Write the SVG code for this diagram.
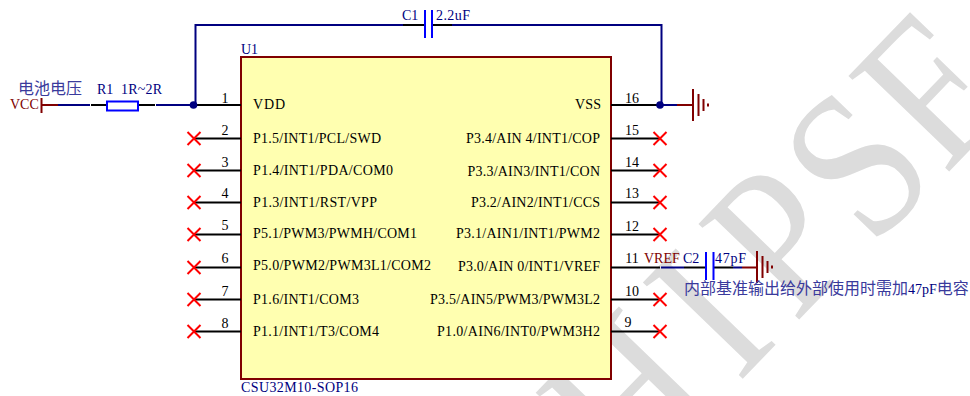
<svg xmlns="http://www.w3.org/2000/svg" width="970" height="396" viewBox="0 0 970 396">
<style>
.t{font-family:"Liberation Serif","Noto Sans CJK SC",serif;font-size:14px}
.z{font-family:"Noto Sans CJK SC","Liberation Serif",sans-serif;font-size:16px;fill:#3a3a9c}
.k{fill:#000}
.b{fill:#000080}
.m{fill:#800000}
.pin{stroke:#000;stroke-width:2;fill:none}
.w{stroke:#000080;stroke-width:2;fill:none}
.r{stroke:#800000;stroke-width:2;fill:none}
.x{stroke:#ff0000;stroke-width:2;fill:none}
.c{stroke:#0000ff;stroke-width:2;fill:none}
.wm{font-family:"Liberation Serif",serif;font-size:212px;fill:#dcdcdc}
.mid{text-anchor:middle}
</style>
<defs>
<path id="x" class="x" d="M-6.500-6.500L6.500 6.500M-6.500 6.500L6.500-6.500"/>
<path id="gnd" class="r" d="M0-16V16M5.500-11V11M10.500-6V6M15-1.500V1.500"/>
</defs>
<g id="watermark">
<text class="wm" transform="translate(707,415) rotate(-46) scale(.85,1)" x="-127">H</text>
<text class="wm" transform="translate(759,362) rotate(-46) scale(.85,1)" x="-35">I</text>
<text class="wm" transform="translate(810,308) rotate(-46) scale(.85,1)" x="-26">P</text>
<text class="wm" transform="translate(872,249) rotate(-46) scale(.85,1)">S</text>
<text class="wm" transform="translate(960,160) rotate(-46) scale(.85,1)" x="-26">F</text>
</g>
<g id="U1">
<rect x="241" y="57" width="370" height="322" fill="#ffffb0" stroke="#800000" stroke-width="2"/>
<text class="t b" x="241" y="54">U1</text>
<text class="t b" x="241" y="392" textLength="117">CSU32M10-SOP16</text>
<text class="t k" x="253" y="109" textLength="32">VDD</text>
<text class="t k" x="253" y="143" textLength="128">P1.5/INT1/PCL/SWD</text>
<text class="t k" x="253" y="175" textLength="140">P1.4/INT1/PDA/COM0</text>
<text class="t k" x="253" y="206.500" textLength="124">P1.3/INT1/RST/VPP</text>
<text class="t k" x="253" y="238" textLength="164">P5.1/PWM3/PWMH/COM1</text>
<text class="t k" x="253" y="270" textLength="178">P5.0/PWM2/PWM3L1/COM2</text>
<text class="t k" x="253" y="304" textLength="106">P1.6/INT1/COM3</text>
<text class="t k" x="253" y="336" textLength="126">P1.1/INT1/T3/COM4</text>
<text class="t k" x="575" y="109" textLength="26">VSS</text>
<text class="t k" x="466" y="143" textLength="134">P3.4/AIN 4/INT1/COP</text>
<text class="t k" x="467.500" y="175.500" textLength="132.500">P3.3/AIN3/INT1/CON</text>
<text class="t k" x="471" y="206.500" textLength="129">P3.2/AIN2/INT1/CCS</text>
<text class="t k" x="456" y="238" textLength="144">P3.1/AIN1/INT1/PWM2</text>
<text class="t k" x="458" y="270.500" textLength="142">P3.0/AIN 0/INT1/VREF</text>
<text class="t k" x="430" y="304" textLength="170">P3.5/AIN5/PWM3/PWM3L2</text>
<text class="t k" x="437" y="336" textLength="163">P1.0/AIN6/INT0/PWM3H2</text>
<g class="t k mid">
<text x="225" y="103">1</text><text x="225" y="134.500">2</text><text x="225" y="166.500">3</text><text x="225" y="198">4</text><text x="225" y="230">5</text><text x="225" y="263">6</text><text x="225" y="296">7</text><text x="225" y="328">8</text>
<text x="632" y="103">16</text><text x="632" y="134.500">15</text><text x="632" y="166.500">14</text><text x="632" y="198">13</text><text x="632" y="231">12</text><text x="632" y="263">11</text><text x="632" y="295.500">10</text><text x="628" y="327">9</text>
</g>
</g>
<g id="connectors">
<path class="pin" d="M194 105H241M194 138.500H241M194 170.500H241M194 202.500H241M194 234.500H241M194 267.500H241M194 299.500H241M194 331.500H241"/>
<path class="pin" d="M611 105H660M611 138.500H660M611 170.500H660M611 202.500H660M611 234.500H660M611 267.500H660M611 299.500H660M611 331.500H660"/>
<path class="w" d="M58 105H90M156 105H193M195.500 105V25H403M452 25H661.500V105M660 105H677M661 267.500H684M733 267.500H742"/>
<path class="pin" d="M91 105H107M139 105H155M684 267.500H706M714 267.500H733"/>
<path class="r" d="M42 105H58M677 105H693M742 267.500H757"/>
<circle cx="193.500" cy="105" r="3.800" fill="#000080"/>
<circle cx="660" cy="105" r="3.800" fill="#000080"/>
</g>
<g id="VCC"><path class="r" d="M41.500 98V113"/><text class="t m" x="10" y="109">VCC</text><text class="z" x="18" y="94">电池电压</text></g>
<g id="R1"><rect x="107" y="101.500" width="31" height="9" fill="none" stroke="#0000ff" stroke-width="2"/><text class="t b" x="97" y="94">R1</text><text class="t b" x="121" y="94" textLength="41">1R~2R</text></g>
<g id="C1"><path class="pin" d="M403 25H425M432 25H452"/><path class="c" d="M425 10V38M432 10V38"/><text class="t b" x="402" y="20">C1</text><text class="t b" x="436" y="20" textLength="34">2.2uF</text></g>
<g id="GND1"><use href="#gnd" x="693" y="105"/></g>
<g id="VREF"><text class="t m" x="644" y="263">VREF</text></g>
<g id="C2"><path class="c" d="M706 252V280M713.500 252V280"/><text class="t b" x="683" y="263">C2</text><text class="t b" x="715" y="263" textLength="31">47pF</text></g>
<g id="GND2"><use href="#gnd" x="757" y="267"/></g>
<g id="note"><text class="z" x="684" y="294">内部基准输出给外部使用时需加<tspan class="t b">47pF</tspan>电容</text></g>
<g id="nc">
<use href="#x" x="194" y="138.500"/><use href="#x" x="194" y="170.500"/><use href="#x" x="194" y="202.500"/><use href="#x" x="194" y="234.500"/><use href="#x" x="194" y="267.500"/><use href="#x" x="194" y="299.500"/><use href="#x" x="194" y="331.500"/>
<use href="#x" x="660" y="138.500"/><use href="#x" x="660" y="170.500"/><use href="#x" x="660" y="202.500"/><use href="#x" x="660" y="234.500"/><use href="#x" x="660" y="299.500"/><use href="#x" x="660" y="331.500"/>
</g>
</svg>
